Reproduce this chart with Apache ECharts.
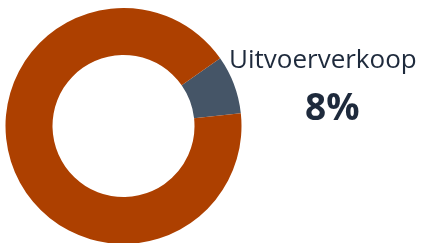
<!DOCTYPE html>
<html>
<head>
<meta charset="utf-8">
<script src="https://cdn.jsdelivr.net/npm/echarts@6/dist/echarts.min.js"></script>
<style>
  html, body { margin: 0; padding: 0; background: #fff; }
  #chart { width: 429px; height: 243px; }
</style>
</head>
<body>
<div id="chart"></div>
<script>
const names = ['Uitvoerverkoop', 'Overig'];
const values = [8, 92];
const colors = ['#455567', '#ad4000'];

const chart = echarts.init(document.getElementById('chart'));

const option = {
    animation: false,
    backgroundColor: '#ffffff',
    graphic: [
        {
            type: 'text',
            left: 229,
            top: 48,
            style: {
                text: names[0],
                font: '26px "Open Sans"',
                fill: '#1e2a3c'
            }
        },
        {
            type: 'text',
            left: 305,
            top: 91,
            style: {
                text: values[0] + '%',
                font: 'bold 37px "Open Sans"',
                fill: '#1e2a3c'
            }
        }
    ],
    series: [
        {
            type: 'pie',
            center: [123.5, 126],
            radius: [71, 118],
            startAngle: 35,
            clockwise: true,
            label: { show: false },
            labelLine: { show: false },
            emphasis: { disabled: true },
            silent: true,
            data: names.map((n, i) => ({
                name: n,
                value: values[i],
                itemStyle: { color: colors[i] }
            }))
        }
    ]
};

chart.setOption(option);
</script>
</body>
</html>
